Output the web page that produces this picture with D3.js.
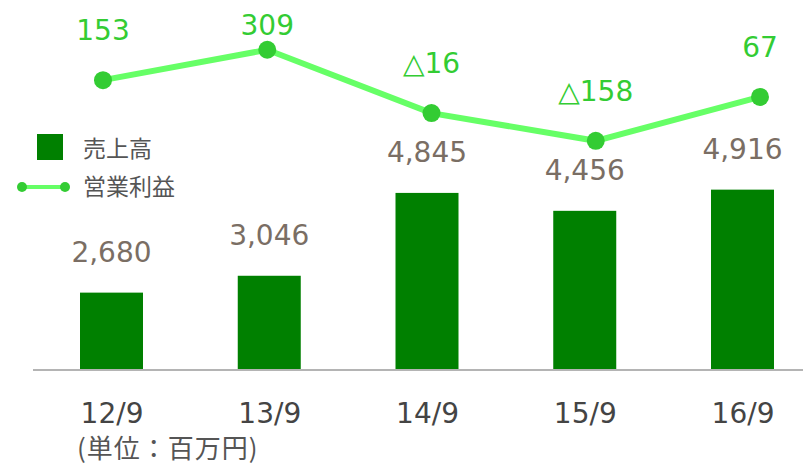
<!DOCTYPE html>
<html>
<head>
<meta charset="utf-8">
<script src="https://cdn.jsdelivr.net/npm/d3@7"></script>
<style>
  body { margin: 0; background: #fff; }
  text { font-family: "DejaVu Sans", Verdana, sans-serif; }
  .jp { font-family: "Noto Sans CJK JP", sans-serif; }
</style>
</head>
<body>
<svg width="803" height="464"></svg>
<script>
const categories = ["12/9", "13/9", "14/9", "15/9", "16/9"];
const sales = [2680, 3046, 4845, 4456, 4916];
const profit = [153, 309, -16, -158, 67];

const svg = d3.select("svg");
const baseY = 370;

const xBar = d3.scalePoint().domain(categories).range([111.5, 742.5]);
const xLine = d3.scalePoint().domain(categories).range([103, 760]);
const yBar = d3.scaleLinear().domain([1000, 8000]).range([baseY, 47.6]);
const yLine = d3.scaleLinear().domain([-400, 400]).range([188, 32]);
const barW = 63;

const fmt = d3.format(",");
const profitFmt = v => v < 0 ? "△" + Math.abs(v) : String(v);

// bars
svg.selectAll("rect.bar")
  .data(sales)
  .join("rect")
  .attr("class", "bar")
  .attr("x", (d, i) => xBar(categories[i]) - barW / 2)
  .attr("y", d => yBar(d))
  .attr("width", barW)
  .attr("height", d => baseY - yBar(d))
  .attr("fill", "#008000");

svg.selectAll("text.sales")
  .data(sales)
  .join("text")
  .attr("class", "sales")
  .attr("x", (d, i) => xBar(categories[i]))
  .attr("y", d => yBar(d) - 31)
  .attr("text-anchor", "middle")
  .attr("font-size", 28)
  .attr("fill", "#7a6e64")
  .text(d => fmt(d));

// baseline
svg.append("line")
  .attr("x1", 33).attr("x2", 803)
  .attr("y1", baseY).attr("y2", baseY)
  .attr("stroke", "#b4b4b4")
  .attr("stroke-width", 2);

// x axis labels
const xAxis = svg.append("g")
  .attr("transform", `translate(0,${baseY})`)
  .call(d3.axisBottom(xBar).tickSize(0).tickPadding(33));
xAxis.select(".domain").remove();
xAxis.selectAll("text")
  .attr("font-size", 28)
  .attr("font-family", "DejaVu Sans, Verdana, sans-serif")
  .attr("fill", "#444");

// profit line
const line = d3.line()
  .x((d, i) => xLine(categories[i]))
  .y(d => yLine(d));

svg.append("path")
  .datum(profit)
  .attr("d", line)
  .attr("fill", "none")
  .attr("stroke", "#66ff66")
  .attr("stroke-width", 6);

svg.selectAll("circle.pt")
  .data(profit)
  .join("circle")
  .attr("class", "pt")
  .attr("cx", (d, i) => xLine(categories[i]))
  .attr("cy", d => yLine(d))
  .attr("r", 9)
  .attr("fill", "#33cc33");

svg.selectAll("text.profit")
  .data(profit)
  .join("text")
  .attr("class", "profit")
  .attr("x", (d, i) => xLine(categories[i]))
  .attr("y", d => Math.max(yLine(d) - 40, 35))
  .attr("text-anchor", "middle")
  .attr("font-size", 28)
  .attr("fill", "#33cc33")
  .text(d => profitFmt(d));

// legend
const legend = svg.append("g");
legend.append("rect")
  .attr("x", 37).attr("y", 134)
  .attr("width", 26).attr("height", 26)
  .attr("fill", "#008000");
legend.append("text")
  .attr("class", "jp")
  .attr("x", 83).attr("y", 157)
  .attr("font-size", 23)
  .attr("fill", "#555")
  .text("売上高");
legend.append("line")
  .attr("x1", 22).attr("x2", 65)
  .attr("y1", 187).attr("y2", 187)
  .attr("stroke", "#66ff66")
  .attr("stroke-width", 4);
legend.selectAll("circle")
  .data([22, 65])
  .join("circle")
  .attr("cx", d => d)
  .attr("cy", 187)
  .attr("r", 5)
  .attr("fill", "#33cc33");
legend.append("text")
  .attr("class", "jp")
  .attr("x", 83).attr("y", 195)
  .attr("font-size", 23)
  .attr("fill", "#555")
  .text("営業利益");

// unit note
svg.append("text")
  .attr("class", "jp")
  .attr("x", 77).attr("y", 458)
  .attr("font-size", 26)
  .attr("letter-spacing", 1)
  .attr("fill", "#555")
  .text("(単位：百万円)");
</script>
</body>
</html>
